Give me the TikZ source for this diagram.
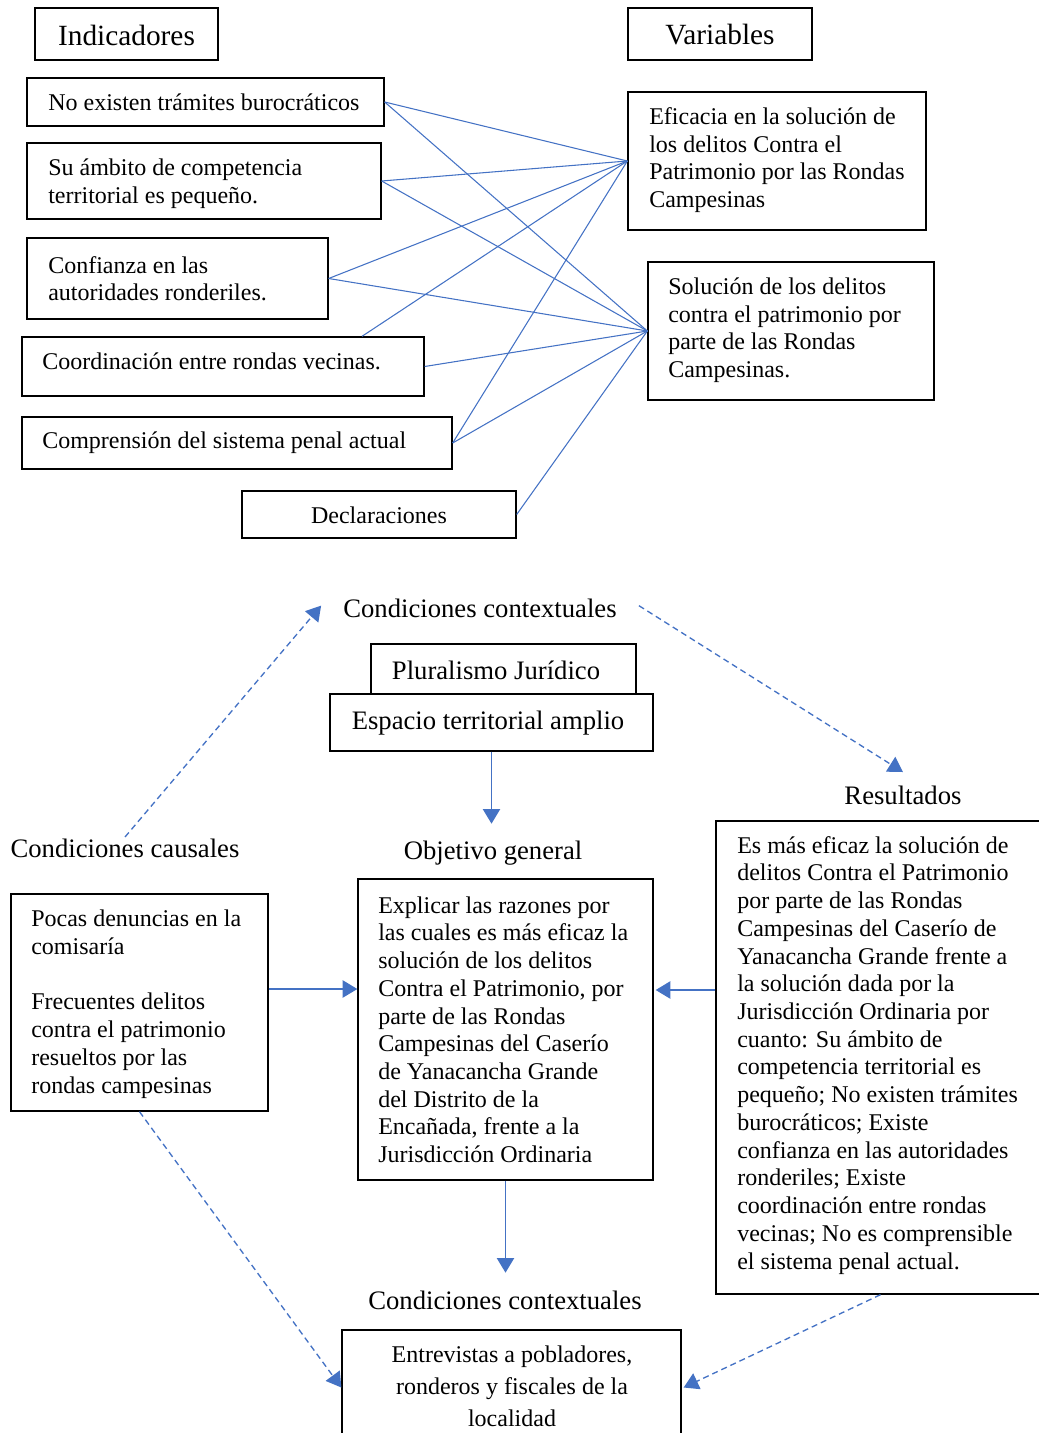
\documentclass[tikz,border=0pt]{standalone}
\usepackage{fontspec}
\setmainfont{Liberation Serif}
\usetikzlibrary{arrows.meta,calc}
\definecolor{lnk}{HTML}{4472C4}
\begin{document}
\begin{tikzpicture}[x=0.75pt,y=-0.75pt,
 box/.style={draw=black, line width=1pt, inner sep=0pt},
 txt/.style={inner sep=0pt, align=left, yshift=-2pt, font=\fontsize{18}{20.8}\selectfont},
 ttl/.style={inner sep=0pt, yshift=-2pt, font=\fontsize{20}{24}\selectfont},
 big/.style={inner sep=0pt, font=\fontsize{22}{26}\selectfont},
 link/.style={draw=lnk, line width=0.8pt},
 arr/.style={draw=lnk, line width=1pt, -{Triangle[length=11pt,width=13pt]}},
 darr/.style={arr, dash pattern=on 4.5pt off 3pt}]
\useasboundingbox (0,0) rectangle (1038,1433);

% ---------- upper part ----------
\node[box, minimum width=137.25pt, minimum height=39pt] (bI) at (126.5,34) {};
\node[big] (tI) at (126.5,35) {Indicadores};
\node[box, minimum width=138pt, minimum height=39pt] (bV) at (720,34) {};
\node[big] (tV) at (720,35) {Variables};

\node[box, minimum width=267.75pt, minimum height=36pt] (i1) at (205.5,102) {};
\node[txt, anchor=west] (x1) at (48,99.5) {No existen trámites burocráticos};
\node[box, minimum width=265.5pt, minimum height=57pt] (i2) at (204,181) {};
\node[txt, anchor=west] (x2) at (48,181) {Su ámbito de competencia\\territorial es pequeño.};
\node[box, minimum width=225.75pt, minimum height=60.75pt] (i3) at (177.5,278.5) {};
\node[txt, anchor=west] (x3) at (48,276) {Confianza en las\\autoridades ronderiles.};
\node[box, minimum width=301.5pt, minimum height=44.25pt] (i4) at (223,366.5) {};
\node[txt, anchor=west] (x4) at (42,359) {Coordinación entre rondas vecinas.};
\node[box, minimum width=322.5pt, minimum height=39pt] (i5) at (237,443) {};
\node[txt, anchor=west] (x5) at (42,440) {Comprensión del sistema penal actual};
\node[box, minimum width=205.5pt, minimum height=35.25pt] (i6) at (379,514.5) {};
\node[txt] (x6) at (379,512.5) {Declaraciones};

\node[box, minimum width=223.5pt, minimum height=103.5pt] (v1) at (777,161) {};
\node[txt, anchor=west] (y1) at (649,157.5) {Eficacia en la solución de\\los delitos Contra el\\Patrimonio por las Rondas\\Campesinas};
\node[box, minimum width=214.5pt, minimum height=103.5pt] (v2) at (791,331) {};
\node[txt, anchor=west] (y2) at (668,327.5) {Solución de los delitos\\contra el patrimonio por\\parte de las Rondas\\Campesinas.};

\draw[link] (i1.east) -- (v1.west);
\draw[link] (i1.east) -- (v2.west);
\draw[link] (i2.east) -- (v1.west);
\draw[link] (i2.east) -- (v2.west);
\draw[link] (i3.east) -- (v1.west);
\draw[link] (i3.east) -- (v2.west);
\draw[link] ($(i4.north)+(139,0)$) -- (v1.west);
\draw[link] (i4.east) -- (v2.west);
\draw[link] (i5.east) -- (v1.west);
\draw[link] (i5.east) -- (v2.west);
\draw[link] (i6.east) -- (v2.west);

% ---------- lower part ----------
\node[ttl] (ct) at (480,606) {Condiciones contextuales};
\node[box, minimum width=198.75pt, minimum height=37.5pt] (pl) at (503.5,669) {};
\node[ttl] (tpl) at (496,668) {Pluralismo Jurídico};
\node[box, fill=white, minimum width=242.25pt, minimum height=42.75pt] (es) at (491.5,722.5) {};
\node[ttl] (tes) at (488,720) {Espacio territorial amplio};

\node[ttl] (og) at (493,850) {Objetivo general};
\node[ttl] (rl) at (903,793) {Resultados};
\node[ttl] (cl) at (125,846) {Condiciones causales};
\node[ttl] (cb) at (505,1298) {Condiciones contextuales};

\node[box, minimum width=192.75pt, minimum height=162.75pt] (ca) at (139.5,1002.5) {};
\node[txt, anchor=west] (tca) at (31,1001.5) {Pocas denuncias en la\\comisaría\\[20.8pt]Frecuentes delitos\\contra el patrimonio\\resueltos por las\\rondas campesinas};

\node[box, minimum width=221.25pt, minimum height=225.75pt] (ob) at (505.5,1029.5) {};
\node[txt, anchor=west] (tob) at (378,1027) {Explicar las razones por\\las cuales es más eficaz la\\solución de los delitos\\Contra el Patrimonio, por\\parte de las Rondas\\Campesinas del Caserío\\de Yanacancha Grande\\del Distrito de la\\Encañada, frente a la\\Jurisdicción Ordinaria};

\node[box, minimum width=246.75pt, minimum height=354.75pt] (rs) at (880.5,1057.5) {};
\node[txt, anchor=west] (trs) at (737,1052.5) {Es más eficaz la solución de\\delitos Contra el Patrimonio\\por parte de las Rondas\\Campesinas del Caserío de\\Yanacancha Grande frente a\\la solución dada por la\\Jurisdicción Ordinaria por\\cuanto: Su ámbito de\\competencia territorial es\\pequeño; No existen trámites\\burocráticos; Existe\\confianza en las autoridades\\ronderiles; Existe\\coordinación entre rondas\\vecinas; No es comprensible\\el sistema penal actual.};

\node[box, minimum width=254.25pt, minimum height=86.25pt] (bt) at (511.5,1387.5) {};
\node[txt, align=center, font=\fontsize{18}{24}\selectfont] (tbt) at (512,1384) {Entrevistas a pobladores,\\ronderos y fiscales de la\\localidad};

% arrows
\draw[arr] (es.south) -- ++(0,72);
\draw[arr] ($(ca.east)+(0,-13.5)$) coordinate (p1) -- (p1 -| ob.west);
\draw[arr] ($(rs.west)+(0,-67.5)$) coordinate (p2) -- ($(p2 -| ob.east)+(2,0)$);
\draw[arr] (ob.south) -- ++(0,92);
\draw[darr] ($(cl.north)+(0,-2)$) -- ($(ct.west)+(-22,-3)$);
\draw[darr] ($(ct.east)+(22,-3)$) -- ($(rl.north)+(0,-14)$);
\draw[darr] (ca.south) -- (bt.west);
\draw[darr] (rs.south) -- ($(bt.east)+(2,0)$);
\end{tikzpicture}
\end{document}
